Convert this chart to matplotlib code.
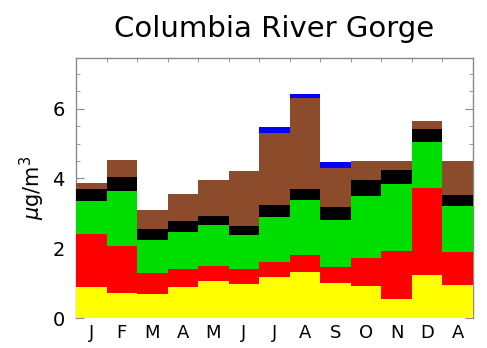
"""Monthly stacked composition bars for the Columbia River Gorge site."""
import matplotlib

matplotlib.use("Agg")
import matplotlib.pyplot as plt
import numpy as np

TITLE = "Columbia River Gorge"
MONTHS = ["J", "F", "M", "A", "M", "J", "J", "A", "S", "O", "N", "D", "A"]

# layer contributions (ug/m3), bottom to top
yellow = [0.88, 0.73, 0.68, 0.88, 1.07, 0.99, 1.19, 1.32, 1.01, 0.92, 0.54, 1.23, 0.94]
red = [1.52, 1.34, 0.60, 0.54, 0.42, 0.41, 0.42, 0.50, 0.46, 0.81, 1.38, 2.50, 0.94]
green = [0.95, 1.56, 0.95, 1.05, 1.17, 0.97, 1.29, 1.57, 1.33, 1.78, 1.91, 1.33, 1.33]
black = [0.34, 0.41, 0.31, 0.30, 0.26, 0.27, 0.33, 0.31, 0.38, 0.46, 0.40, 0.36, 0.32]
brown = [0.19, 0.50, 0.55, 0.79, 1.05, 1.57, 2.06, 2.62, 1.12, 0.54, 0.28, 0.22, 0.96]
blue = [0.00, 0.00, 0.00, 0.00, 0.00, 0.00, 0.20, 0.10, 0.17, 0.00, 0.00, 0.00, 0.00]

LAYERS = [
    (yellow, "#ffff00"),
    (red, "#ff0000"),
    (green, "#00dd00"),
    (black, "#000000"),
    (brown, "#8c4b2b"),
    (blue, "#0000ff"),
]


def main():
    fig = plt.figure(figsize=(4.87, 3.48), dpi=100)
    ax = fig.add_axes([0.156, 0.086, 0.815, 0.747])

    x = np.arange(len(MONTHS))
    bottom = np.zeros(len(MONTHS))
    for values, color in LAYERS:
        vals = np.array(values)
        ax.bar(x, vals, width=1.0, bottom=bottom, color=color,
               edgecolor="none", linewidth=0, zorder=3)
        bottom += vals

    ax.set_xlim(-0.5, len(MONTHS) - 0.5)
    ax.set_ylim(0, 7.45)

    for side in ax.spines.values():
        side.set_color("#8a8a8a")
        side.set_linewidth(1.0)
    ax.spines["bottom"].set_visible(False)

    ax.set_yticks([0, 2, 4, 6])
    ax.set_yticks(np.arange(0, 7.5, 0.5), minor=True)
    ax.tick_params(axis="y", which="both", direction="in", colors="#8a8a8a",
                   labelcolor="black", labelsize=14, right=True, pad=8)
    ax.tick_params(axis="y", which="major", length=6)
    ax.tick_params(axis="y", which="minor", length=3)

    ax.set_xticks(x)
    ax.set_xticklabels(MONTHS)
    ax.set_xticks(np.arange(-0.5, len(MONTHS), 0.5), minor=True)
    ax.tick_params(axis="x", which="major", length=0, labelsize=13, pad=4,
                   top=False)
    ax.tick_params(axis="x", which="minor", direction="in", length=3,
                   colors="#8a8a8a", bottom=False, top=True)

    ax.set_ylabel(r"$\mu$g/m$^3$", fontsize=15, labelpad=4)
    ax.set_title(TITLE, fontsize=21, pad=15)

    fig.savefig("out.png", dpi=100)
    plt.close(fig)


if __name__ == "__main__":
    main()
